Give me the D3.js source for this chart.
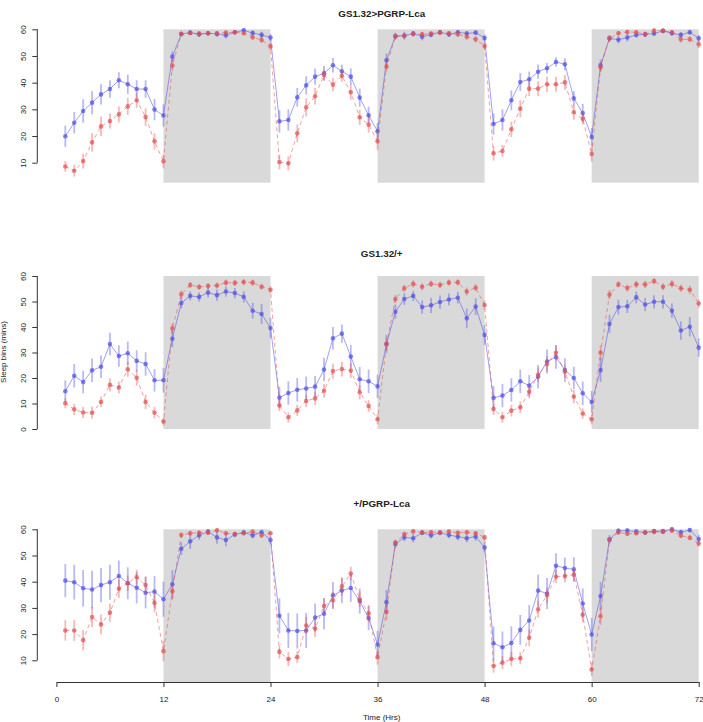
<!DOCTYPE html>
<html><head><meta charset="utf-8">
<script src="https://cdn.jsdelivr.net/npm/d3@7"></script>
<style>
body{margin:0;background:#fff}
text{font-family:"Liberation Sans",Arial,Helvetica,sans-serif;fill:#222}
</style>
</head><body>
<svg id="c" width="703" height="722"></svg>
<script>
// ---------- data ----------
const hours = d3.range(1, 73);
const xTicks = [0, 12, 24, 36, 48, 60, 72];
const darkPeriods = [[12, 24], [36, 48], [60, 72]];
const panelTitles = ["GS1.32>PGRP-Lca", "GS1.32/+", "+/PGRP-Lca"];
const yTicksTop = [10, 20, 30, 40, 50, 60];
const yTicksMid = [0, 10, 20, 30, 40, 50, 60];
const yTicksBot = [10, 20, 30, 40, 50, 60];
const xLabel = "Time (Hrs)";
const yLabel = "Sleep bins (mins)";

// Panel 1: GS1.32>PGRP-Lca
const p1Blue = [19.9,25,29.4,32.5,35.6,37.6,40.9,39.4,37.6,37.6,29.9,27.7,
  49.75,58.25,58.75,58.1,58.5,58.25,57.8,58.9,59.6,58.6,57.9,56.9,
  25.5,26,34.5,39,42.25,43.5,46.5,44.25,42.25,34.4,27.75,21.75,
  48.4,57.4,57.6,58.4,57.25,58,58.9,58.1,58.9,58.4,58.75,56.75,
  24.5,26,33.4,40.25,41.25,44.1,45.4,47.75,46.9,34.1,28.6,19.6,
  46.5,56.6,56.1,56.9,57.9,58.1,58.4,59.4,58.5,57.9,58.9,56.6];
const p1BlueErr = [4,4,4.4,4.3,3.8,3.3,3,3.6,3.3,3.3,4,4.2,
  1.9,1,0.8,1,0.8,1,1.2,0.8,0.8,1,1.2,1.3,
  4.2,4,3.5,3.4,3,2.8,2.7,2.5,3.1,3.4,3.2,3.1,
  2.5,1.3,1.5,1,1.4,1,0.8,1,0.8,1,0.8,1.3,
  4,4,3.7,3.4,2.9,2.7,2,1.8,2.3,2.7,3.4,3.4,
  2.2,1.3,1.4,1.4,1,1,0.9,0.8,0.9,1,0.9,1.3];
const p1Red = [8.6,7,10.6,17.6,23.6,25.6,28.1,31.1,33.4,27.1,18,10.5,
  46.4,58.25,58.6,58.4,58.5,58.5,58.75,58.9,58.5,57,56,53.6,
  10.25,9.75,21,30.75,34.9,42.9,39.25,42.6,36.4,27,24.25,18,
  46,57.4,57.6,58.25,58.1,58.4,58.75,58.5,58.1,57.2,56.25,53.75,
  13.5,14.4,22.5,30.25,37.75,37.75,39.4,39.4,40.1,28.9,26.5,13.25,
  45.75,56.6,58.5,59,58.9,58.1,59.5,59.4,58.9,56.25,56.25,54.4];
const p1RedErr = [2,2.2,2.8,3.4,3.7,2.8,3,3.2,2.8,3.3,3,2.6,
  2.2,0.8,0.8,0.8,0.8,0.8,0.8,0.8,0.8,1,1.2,1.5,
  2.7,2.6,3.3,3.4,3.1,2,2.5,2.2,2.8,2.8,3,3.2,
  1.9,1,1,1,1,0.8,0.8,0.8,1,1.2,1.2,1.5,
  2.7,2.2,2.9,3.2,2.8,2.8,2.8,2.8,2.8,2.8,2.2,2.8,
  1.8,1,0.8,0.8,0.8,1,0.8,0.8,0.8,1.2,1.2,1.4];

// Panel 2: GS1.32/+
const p2Blue = [14.8,20.9,18.4,23,24.4,33.3,28.6,29.7,26.7,25.5,19.1,19.1,
  35.4,49.4,52.2,51.8,53.5,52.5,53.9,53.3,51.8,46.4,45.1,39.6,
  12.3,14.1,15.4,15.9,16.6,23.3,35.6,37.4,28.4,19.5,18.7,16.7,
  33.3,46,51,52.2,47.8,48.5,49.8,50.8,51.5,43.4,48,36.9,
  12.2,13.1,15.3,18.7,17,20.5,26.5,28.2,23.1,20,14,10.6,
  23.1,41.2,47.8,48.1,51.6,48.8,49.9,49.9,46.4,38.6,40.1,31.9];
const p2BlueErr = [4.3,4.6,4.4,4.6,4.4,4.4,4.2,4.6,4.2,4.6,4.4,4.8,
  3.3,2.1,1.8,1.8,1.8,2.2,2,2,2.2,3.1,3.9,4.1,
  4.2,4.6,4.6,4.6,4.2,4.6,4.4,3.6,4.6,4.8,4.6,4.6,
  3.6,2.8,2.3,2,2.6,3,2.6,2.3,2.3,3.9,3.3,3.9,
  4.6,4.6,4.6,4.6,4.2,4.6,4.7,4.6,4.6,4.4,4.6,4.3,
  4.6,3.6,2.9,2.6,2.3,2.6,2.6,2.6,2.8,3.6,3.8,3.6];
const p2Red = [10.1,7.7,6.5,6.4,10.6,17.3,16.3,23.4,20.1,10.6,6.4,2.9,
  39.5,52.8,56.5,55.7,56.1,56.3,57.4,57.3,57.6,57.4,55.8,54.6,
  9.3,4.6,7.3,11,12,15,22.7,23.5,22.9,14.4,9,3.8,
  33.3,51,55.2,56.9,55.8,56.9,56.5,57.4,57.5,53.9,55.4,48.6,
  7.8,4.6,7.2,8.5,14.6,21.3,25.5,29.9,22.5,12.7,6.1,3.8,
  29.9,52.7,56.7,55.3,56.7,56.7,58,55.8,56.9,55.2,54.6,49.2];
const p2RedErr = [2,2.2,2.2,2.3,2.1,2.6,2.3,2.9,3.1,2.8,2.3,1.6,
  2,1.5,1.2,1.2,1.2,1.2,1.2,1.2,1.2,1.2,1.2,1.4,
  2.3,2,2.2,2.4,2.6,2.6,2.9,2.9,2.9,2.8,2.3,2,
  2.5,1.6,1.4,1.4,1.4,1.2,1.2,1.2,1.2,1.6,1.4,1.8,
  2.3,2.1,2.3,2.3,2.6,2.8,3,3,2.6,2.6,2,2,
  3,1.8,1.2,1.4,1.4,1.4,1.2,1.4,1.4,1.4,1.6,1.6];

// Panel 3: +/PGRP-Lca
const p3Blue = [40.4,39.8,37.5,37,38.7,39.8,42.2,39.4,37.7,35.8,36.2,33.3,
  39,52.6,55.4,57.7,59.1,56.9,55.9,58,58.8,57.7,58.9,55.9,
  27,21.4,21.2,21.4,26.3,27.8,34.8,36.6,37.6,32.6,26.1,16,
  32.2,54.4,56.9,56.6,58.7,57.7,58.7,57.8,57.2,56.6,57.2,53.1,
  16.5,15,16.6,21.6,25.2,36.6,35.5,46.1,45.2,44.7,31.7,19.8,
  34.5,56.2,59.4,59.5,59.1,58.8,59.3,59.3,60,58.9,59.7,56.3];
const p3BlueErr = [6.3,6.6,7,7.2,6.5,6.7,5.9,6.1,6,6,6,6.7,
  5.4,2.4,2.9,1.7,1,2.4,2.4,1,1,1.2,1,1.6,
  6.7,6.7,6.7,6.7,5.4,6,5.1,4.8,5.3,4.8,4.6,5.3,
  4.6,1.6,1.4,1.6,1,1.2,1,1.2,1.4,1.6,1.6,2,
  6.4,6,6.4,5.7,5.9,6.1,5.9,4.8,4,4.6,5.7,6.4,
  5.4,1.6,1,1,1,1,0.8,0.8,0.8,1,0.8,1.6];
const p3Red = [21.4,21.4,17.7,26.5,23.7,28.2,37.3,39.4,41.7,38.7,31.9,13.5,
  36.4,57.8,58.5,58.7,58.7,59.6,58.5,58.2,58.5,59.1,57.7,58.5,
  13.2,10.5,11.2,23.3,22.1,30.7,32.9,38.2,43.1,33.3,27.9,11.2,
  28.5,54.9,58.1,59.2,58.8,58.9,58.8,59.1,58.7,58.9,58.5,56.9,
  7.8,9.1,10.5,10.8,18.6,29.5,34.8,41.9,42.2,42.7,27.4,6.5,
  26.8,55.9,58.8,58.3,58.5,58.8,59,59,59.5,57.6,56.8,54.6];
const p3RedErr = [3.9,4,3.9,3.8,3.8,3.5,3.5,2.9,2.9,3.4,3.6,3.8,
  3.2,1,1,0.8,0.8,0.8,0.8,0.8,0.8,0.8,1,0.8,
  2.5,2.7,2.2,3.3,3.2,2.9,3.2,3.5,2.6,3,3.2,2.9,
  3.2,1,1,0.8,0.8,0.8,0.8,0.8,0.8,0.8,0.8,1,
  2.5,2.5,2.7,2.3,3.2,3.2,2.9,2.5,2.5,2.6,2.9,2.5,
  3.2,1,0.8,0.8,0.8,0.8,0.8,0.8,0.8,1,1,1.2];

// ---------- layout ----------
const BLUE = "rgb(80,80,228)";
const RED = "rgb(228,80,80)";
const layout = [
  {titleY: 16.5, d0: 10, px0: 162.7, px60: 29.3, floor: 2.5, ticks: yTicksTop},
  {titleY: 257, d0: 0, px0: 429, px60: 276, floor: 0, ticks: yTicksMid},
  {titleY: 507, d0: 10, px0: 660.3, px60: 529.3, floor: 1.7, ticks: yTicksBot}
];
const series = [
  {blue: p1Blue, blueErr: p1BlueErr, red: p1Red, redErr: p1RedErr},
  {blue: p2Blue, blueErr: p2BlueErr, red: p2Red, redErr: p2RedErr},
  {blue: p3Blue, blueErr: p3BlueErr, red: p3Red, redErr: p3RedErr}
];
const axisX = 37.3;
const titleCx = 381.7;

const svg = d3.select("#c");
const x = d3.scaleLinear().domain([0, 72]).range([56.4, 698.7]);

layout.forEach((L, i) => {
  const y = d3.scaleLinear().domain([L.d0, 60]).range([L.px0, L.px60]);
  const g = svg.append("g");

  // dark-period shading
  g.selectAll("rect.dark").data(darkPeriods).enter().append("rect")
    .attr("x", d => x(d[0])).attr("width", d => x(d[1]) - x(d[0]))
    .attr("y", y(60)).attr("height", y(L.floor) - y(60))
    .attr("fill", "#d9d9d9");

  // y axis
  const ya = g.append("g").attr("transform", `translate(${axisX},0)`)
    .call(d3.axisLeft(y).tickValues(L.ticks).tickSize(5).tickSizeOuter(0).tickFormat(d3.format("d")));
  ya.select(".domain").attr("stroke", "#333").attr("d", `M0,${y(L.ticks[0])}V${y(L.ticks[L.ticks.length-1])}`);
  ya.selectAll(".tick line").attr("stroke", "#333");
  ya.selectAll(".tick text").attr("x", null).attr("dy", null)
    .attr("transform", "translate(-11,0) rotate(-90)")
    .attr("text-anchor", "middle").attr("font-size", 8).attr("fill", "#222");

  // title
  g.append("text").attr("x", titleCx).attr("y", L.titleY)
    .attr("text-anchor", "middle").attr("font-weight", "bold").attr("font-size", 9.8)
    .text(panelTitles[i]);

  const S = series[i];
  const groups = [
    {vals: S.blue, err: S.blueErr, col: BLUE, dash: null},
    {vals: S.red, err: S.redErr, col: RED, dash: "4,3"}
  ];
  groups.forEach(grp => {
    const pts = hours.map((h, k) => ({h, v: grp.vals[k], e: grp.err[k]}));
    // error bars
    g.selectAll(null).data(pts).enter().append("line")
      .attr("x1", d => x(d.h)).attr("x2", d => x(d.h))
      .attr("y1", d => y(d.v - d.e)).attr("y2", d => y(d.v + d.e))
      .attr("stroke", grp.col).attr("stroke-opacity", 0.4).attr("stroke-width", 1.8);
    // line
    g.append("path").datum(pts)
      .attr("d", d3.line().x(d => x(d.h)).y(d => y(d.v)))
      .attr("fill", "none").attr("stroke", grp.col).attr("stroke-opacity", 0.6)
      .attr("stroke-width", 0.9).attr("stroke-dasharray", grp.dash);
    // points
    g.selectAll(null).data(pts).enter().append("circle")
      .attr("cx", d => x(d.h)).attr("cy", d => y(d.v)).attr("r", 2.3)
      .attr("fill", grp.col).attr("fill-opacity", 0.7);
  });

  if (i === 2) {
    const xa = g.append("g").attr("transform", `translate(0,682)`)
      .call(d3.axisBottom(x).tickValues(xTicks).tickSize(5).tickPadding(9).tickSizeOuter(0));
    xa.select(".domain").attr("stroke", "#333");
    xa.selectAll(".tick line").attr("stroke", "#333");
    xa.selectAll(".tick text").attr("font-size", 8).attr("fill", "#222");
    g.append("text").attr("x", titleCx).attr("y", 720)
      .attr("text-anchor", "middle").attr("font-size", 8).text(xLabel);
  }
  if (i === 1) {
    g.append("text").attr("transform", `translate(6.3,352) rotate(-90)`)
      .attr("text-anchor", "middle").attr("font-size", 8).text(yLabel);
  }
});
</script>
</body></html>
